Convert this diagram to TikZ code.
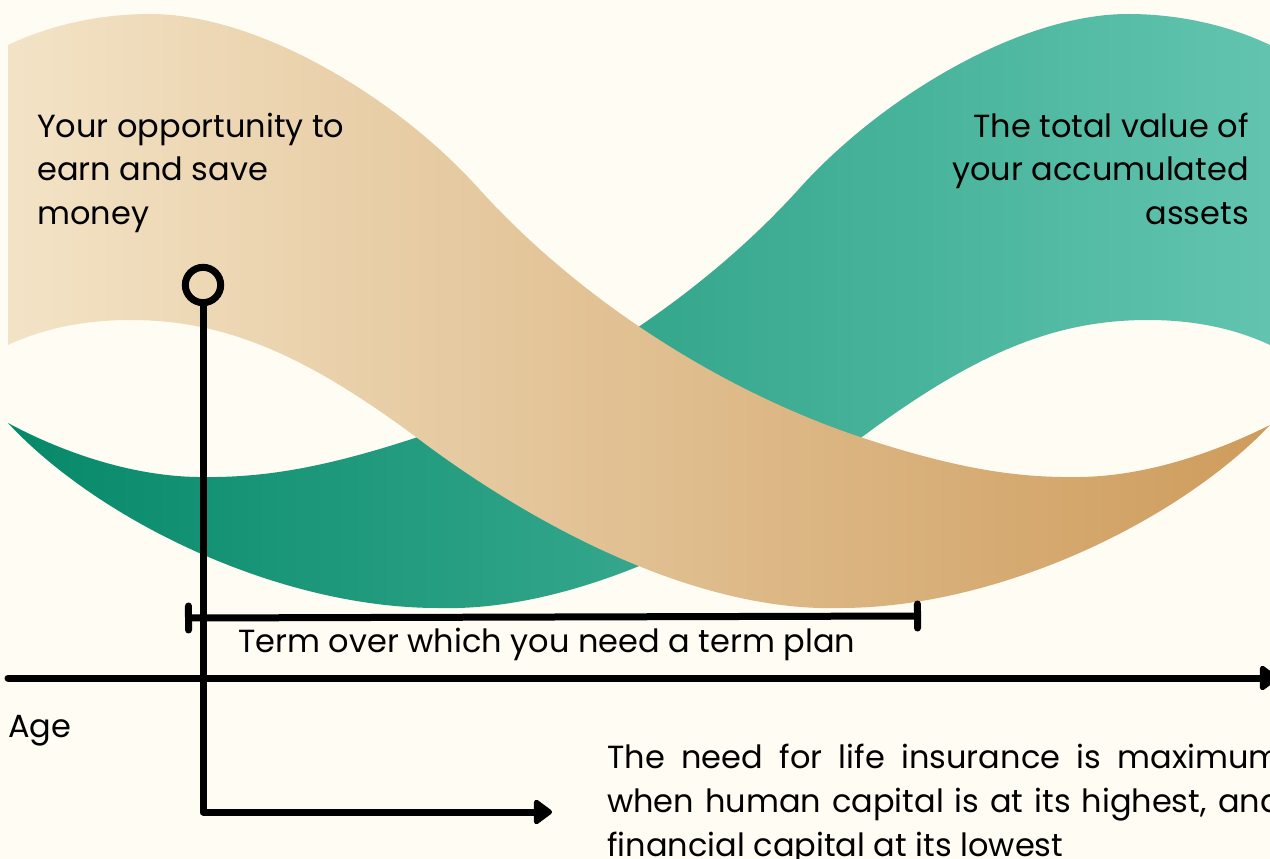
\documentclass[tikz,border=0pt]{standalone}
\usepackage{fontspec}
\setmainfont{Poppins}
\usetikzlibrary{arrows.meta}
\usetikzlibrary{positioning}
\definecolor{paper}{RGB}{255,252,244}
\definecolor{sandlight}{RGB}{243,227,198}
\definecolor{sanddark}{RGB}{206,156,92}
\definecolor{tealdark}{RGB}{6,137,105}
\definecolor{teallight}{RGB}{98,196,175}
\tikzset{rule/.style = {line width = 5.25pt, line cap = round, line join = round},
  txt/.style = {font = \fontsize{24}{33}\selectfont, inner sep = 0pt},
  arrowline/.style = {-{Triangle[round, length = 15pt, width = 21pt]}},
  termbar/.style = {{Bar[round, width = 18pt]}-{Bar[round, width = 18pt]}}}

\begin{document}
\begin{tikzpicture}[x = 0.75pt, y = -0.75pt]
    \fill[paper] (0,0) rectangle (1270,859);
    \useasboundingbox (0,0) rectangle (1270,859);
    \clip (0,0) rectangle (1270,859);

    % financial capital
    \shade[left color = tealdark, right color = teallight]
      (1270,45) .. controls (1228,25) and (1178,14) .. (1128,14)
      .. controls (1018,14) and (878,100) .. (798,190)
      .. controls (698,300) and (558,390) .. (418,437)
      .. controls (318,470) and (258,478) .. (198,477)
      .. controls (128,476) and (58,450) .. (8,423)
      .. controls (98,520) and (278,608) .. (438,608)
      .. controls (578,612) and (738,530) .. (858,440)
      .. controls (978,350) and (1058,320) .. (1148,320)
      .. controls (1198,320) and (1238,330) .. (1270,345) -- cycle;
    % human capital
    \shade[left color = sandlight, right color = sanddark]
      (8,45) .. controls (50,25) and (100,14) .. (150,14)
      .. controls (260,14) and (400,100) .. (480,190)
      .. controls (580,300) and (720,390) .. (860,437)
      .. controls (960,470) and (1020,478) .. (1080,477)
      .. controls (1150,476) and (1220,450) .. (1270,425)
      .. controls (1180,520) and (1000,608) .. (840,608)
      .. controls (700,612) and (540,530) .. (420,440)
      .. controls (300,350) and (220,320) .. (130,320)
      .. controls (80,320) and (40,330) .. (8,345) -- cycle;

    % axis and term
    \coordinate (o) at (8,678);
    \coordinate (x) at (1278,678);
    \coordinate (t0) at (185,618);
    \coordinate (t1) at (921,616);
    \draw[rule, termbar] (t0) -- (t1);
    \draw[rule, arrowline] (o) -- (x);

    % pin
    \node[draw, circle, line width = 5.25pt, minimum size = 26.5pt, inner sep = 0pt] (pin) at (203,285) {};
    \coordinate (need) at (552,812);
    \draw[rule, arrowline] (pin.south) |- (need);

    % labels
    \node[txt, anchor = base west, align = left] (earn) at (37,225) {Your opportunity to\\earn and save\\money};
    \node[txt, anchor = base east, align = right] (assets) at (1249,225) {The total value of\\your accumulated\\assets};
    \node[txt, anchor = base west] (term) at (238,652) {Term over which you need a term plan};
    \node[txt, anchor = base west] (age) at (8,737) {Age};
    \node[txt, anchor = base west, text width = 506pt, align = justify] (life) at (607,768)
      {The need for life insurance is maximum\linebreak when human capital is at its highest, and\linebreak financial capital at its lowest};
  \end{tikzpicture}
\end{document}
